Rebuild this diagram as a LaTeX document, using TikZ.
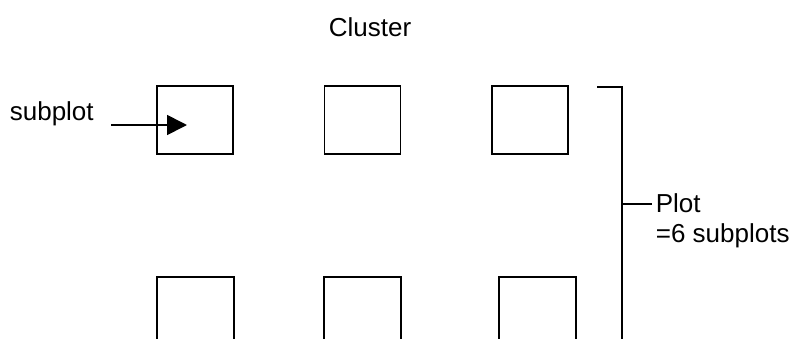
\documentclass[tikz,border=0pt]{standalone}
\usepackage{fontspec}
\setmainfont{Liberation Sans}
\usetikzlibrary{arrows.meta}
\begin{document}
\begin{tikzpicture}[x=1pt,y=-1pt,
  line width=1.7pt,
  lbl/.style={font=\fontsize{26}{30}\selectfont, inner sep=0pt},
  subbox/.style={draw, minimum width=76pt, minimum height=68pt, inner sep=0pt},
  lowbox/.style={draw, minimum width=77pt, minimum height=120pt, inner sep=0pt, anchor=north}]
  \useasboundingbox (0,0) rectangle (796,338);
  \clip (0,0) rectangle (796,338);

  % title
  \node[lbl, anchor=base] (title) at (370,36) {Cluster};

  % upper row of subplots
  \node[subbox] (s1) at (195,120) {};
  \node[subbox] (s2) at (362.5,120) {};
  \node[subbox] (s3) at (530,120) {};

  % lower row of subplots (running past the lower edge)
  \node[lowbox] (s4) at (195.5,276) {};
  \node[lowbox] (s5) at (362.5,276) {};
  \node[lowbox] (s6) at (537.5,276) {};

  % pointer to one subplot
  \node[lbl, anchor=base west] (sublbl) at (9,120) {subplot};
  \coordinate (arrS) at (111,125);
  \coordinate (arrE) at (187,125);
  \draw[-{Triangle[length=20pt,width=20pt]}] (arrS) -- (arrE);

  % bracket grouping the plot
  \coordinate (bA) at (597,87);
  \coordinate (bB) at (622,87);
  \coordinate (bC) at (622,345);
  \coordinate (bT) at (622,204);
  \coordinate (bTe) at (652,204);
  \draw (bA) -- (bB) -- (bC);
  \draw (bT) -- (bTe);
  % base anchor of a two-line node sits on its last line
  \node[lbl, anchor=base west, align=left] (plotlbl) at (655,242) {Plot\\=6 subplots};
\end{tikzpicture}
\end{document}
